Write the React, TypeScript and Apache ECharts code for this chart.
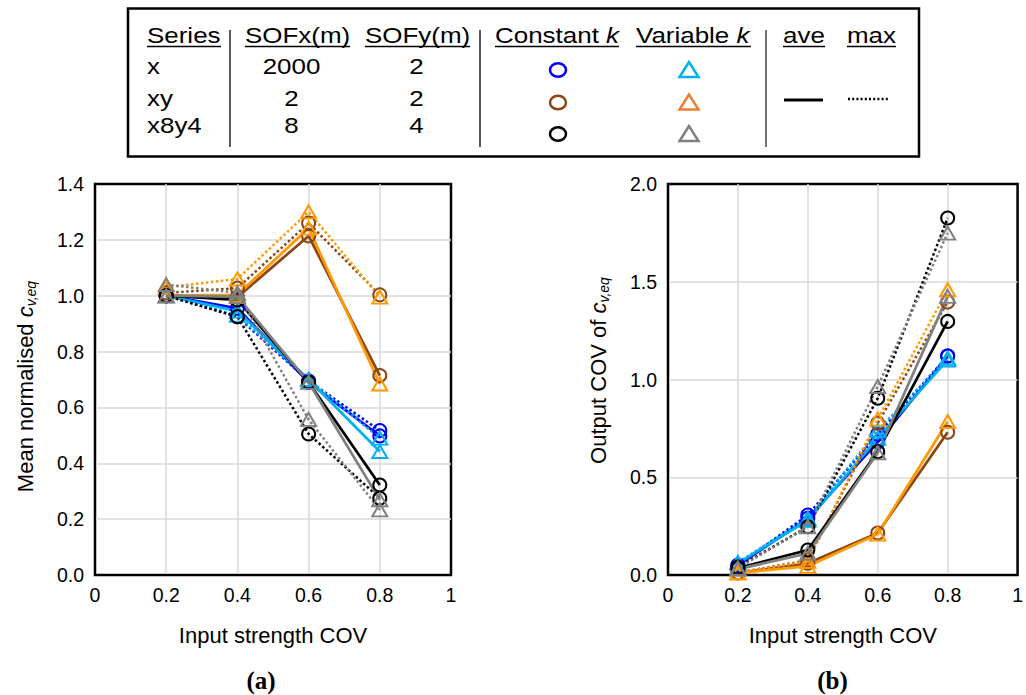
import React, { useEffect, useRef } from 'react';
import * as echarts from 'echarts';

// ---------- data ----------
const inputCov = [0.2, 0.4, 0.6, 0.8];

// (a) Mean normalised c_v,eq
const meanXConstAve = [1.0, 0.955, 0.69, 0.498];
const meanXConstMax = [1.0, 0.925, 0.695, 0.517];
const meanXVarAve = [1.0, 0.945, 0.7, 0.442];
const meanXVarMax = [1.0, 0.93, 0.7, 0.49];
const meanXyConstAve = [1.0, 0.995, 1.214, 0.714];
const meanXyConstMax = [1.01, 1.027, 1.26, 1.003];
const meanXyVarAve = [1.0, 1.003, 1.242, 0.684];
const meanXyVarMax = [1.03, 1.06, 1.3, 0.995];
const meanX8y4ConstAve = [1.0, 0.985, 0.69, 0.322];
const meanX8y4ConstMax = [1.0, 0.925, 0.505, 0.275];
const meanX8y4VarAve = [1.0, 0.997, 0.69, 0.269];
const meanX8y4VarMax = [1.04, 1.01, 0.557, 0.233];

// (b) Output COV of c_v,eq
const covXConstAve = [0.05, 0.29, 0.68, 1.12];
const covXConstMax = [0.05, 0.307, 0.72, 1.12];
const covXVarAve = [0.06, 0.28, 0.7, 1.1];
const covXVarMax = [0.065, 0.29, 0.74, 1.11];
const covXyConstAve = [0.01, 0.06, 0.215, 0.73];
const covXyConstMax = [0.012, 0.075, 0.776, 1.396];
const covXyVarAve = [0.01, 0.045, 0.21, 0.785];
const covXyVarMax = [0.012, 0.07, 0.797, 1.459];
const covX8y4ConstAve = [0.035, 0.128, 0.631, 1.297];
const covX8y4ConstMax = [0.04, 0.247, 0.904, 1.826];
const covX8y4VarAve = [0.03, 0.111, 0.625, 1.425];
const covX8y4VarMax = [0.035, 0.247, 0.964, 1.749];

// legend table contents
const tableHeaders = ['Series', 'SOFx(m)', 'SOFy(m)', 'Constant {i|k}', 'Variable {i|k}', 'ave', 'max'];
const seriesNames = ['x', 'xy', 'x8y4'];
const sofX = ['2000', '2', '8'];
const sofY = ['2', '2', '4'];

const BLUE = '#0000FF';
const LIGHT_BLUE = '#00B0F0';
const BROWN = '#8C4515';
const ORANGE = '#FF9900';
const BLACK = '#000000';
const GRAY = '#808080';

const specs = [
  { name: 'x const', color: BLUE, sym: 'circle', mean: [meanXConstAve, meanXConstMax], cov: [covXConstAve, covXConstMax] },
  { name: 'x var', color: LIGHT_BLUE, sym: 'triangle', mean: [meanXVarAve, meanXVarMax], cov: [covXVarAve, covXVarMax] },
  { name: 'xy const', color: BROWN, sym: 'circle', mean: [meanXyConstAve, meanXyConstMax], cov: [covXyConstAve, covXyConstMax] },
  { name: 'xy var', color: ORANGE, sym: 'triangle', mean: [meanXyVarAve, meanXyVarMax], cov: [covXyVarAve, covXyVarMax] },
  { name: 'x8y4 const', color: BLACK, sym: 'circle', mean: [meanX8y4ConstAve, meanX8y4ConstMax], cov: [covX8y4ConstAve, covX8y4ConstMax] },
  { name: 'x8y4 var', color: GRAY, sym: 'triangle', mean: [meanX8y4VarAve, meanX8y4VarMax], cov: [covX8y4VarAve, covX8y4VarMax] },
];

const FONT = 'Arial, "Liberation Sans", Helvetica, sans-serif';

function mkSeries(name: string, vals: number[], color: string, sym: string, dotted: boolean, axis: number) {
  return {
    type: 'line',
    name,
    xAxisIndex: axis,
    yAxisIndex: axis,
    data: inputCov.map((x, i) => [x, vals[i]]),
    symbol: sym,
    symbolSize: sym === 'circle' ? 13 : [15, 13],
    showSymbol: true,
    clip: false,
    silent: true,
    lineStyle: { color, width: dotted ? 2.5 : 2.75, type: dotted ? 'dotted' : 'solid' },
    itemStyle: { color: 'rgba(255,255,255,0)', borderColor: color, borderWidth: 2 },
    emphasis: { disabled: true },
  };
}

function xAxisCfg(gridIndex: number) {
  return {
    gridIndex,
    type: 'value',
    min: 0,
    max: 1,
    interval: 0.2,
    axisLine: { show: true, onZero: false, lineStyle: { color: '#000', width: 2 } },
    axisTick: { show: false },
    axisLabel: {
      color: '#000',
      fontSize: 19.5,
      fontFamily: FONT,
      margin: 10,
      formatter: (v: number) => (Math.abs(v) < 1e-9 || Math.abs(v - 1) < 1e-9 ? String(Math.round(v)) : v.toFixed(1)),
    },
    splitLine: { show: true, showMinLine: false, showMaxLine: false, lineStyle: { color: '#D9D9D9', width: 1.5 } },
    name: 'Input strength COV',
    nameLocation: 'middle',
    nameGap: 49,
    nameTextStyle: { color: '#000', fontSize: 22, fontFamily: FONT },
  };
}

const subRich = {
  i: { fontStyle: 'italic', fontSize: 22, fontFamily: FONT, color: '#000', lineHeight: 22, verticalAlign: 'top' },
  n: { fontSize: 22, fontFamily: FONT, color: '#000', lineHeight: 22, verticalAlign: 'top' },
  s: { fontStyle: 'italic', fontSize: 14, fontFamily: FONT, color: '#000', lineHeight: 14, padding: [10, 0, 0, 0], verticalAlign: 'top' },
};

function yAxisCfg(gridIndex: number, max: number, interval: number, name: string, pad: number[]) {
  return {
    gridIndex,
    type: 'value',
    min: 0,
    max,
    interval,
    axisLine: { show: true, onZero: false, lineStyle: { color: '#000', width: 2 } },
    axisTick: { show: false },
    axisLabel: { color: '#000', fontSize: 19.5, fontFamily: FONT, margin: 11, formatter: (v: number) => v.toFixed(1) },
    splitLine: { show: true, showMinLine: false, showMaxLine: false, lineStyle: { color: '#D9D9D9', width: 1.5 } },
    name,
    nameLocation: 'middle',
    nameRotate: 90,
    nameGap: 59,
    nameTextStyle: { color: '#000', fontSize: 22, fontFamily: FONT, rich: subRich, padding: pad },
  };
}

function buildLegend() {
  const els: any[] = [];
  els.push({
    type: 'rect',
    shape: { x: 128, y: 8.5, width: 791, height: 148 },
    style: { fill: '#fff', stroke: '#000', lineWidth: 2.5 },
    z: 10,
  });
  const SX = 1.18;
  const hx = [147, 245, 365, 495, 636, 783, 847];
  const hw = [74, 105, 105, 124, 115, 42, 49];
  tableHeaders.forEach((t, i) => {
    els.push({
      type: 'text',
      x: hx[i],
      y: 35.5,
      scaleX: SX,
      z: 11,
      style: {
        text: t,
        fontSize: 22,
        fontFamily: FONT,
        fill: '#000',
        align: 'left',
        verticalAlign: 'middle',
        rich: { i: { fontStyle: 'italic', fontSize: 22, fontFamily: FONT, fill: '#000' } },
      },
    });
    els.push({
      type: 'line',
      shape: { x1: hx[i], y1: 46.5, x2: hx[i] + hw[i], y2: 46.5 },
      style: { stroke: '#000', lineWidth: 1.5 },
      z: 11,
    });
  });
  const rowY = [66.5, 98.5, 125.5];
  seriesNames.forEach((t, r) => {
    els.push({ type: 'text', x: 147, y: rowY[r], scaleX: SX, z: 11, style: { text: t, fontSize: 22, fontFamily: FONT, fill: '#000', align: 'left', verticalAlign: 'middle' } });
    els.push({ type: 'text', x: 291.5, y: rowY[r], scaleX: SX, z: 11, style: { text: sofX[r], fontSize: 22, fontFamily: FONT, fill: '#000', align: 'center', verticalAlign: 'middle' } });
    els.push({ type: 'text', x: 416.5, y: rowY[r], scaleX: SX, z: 11, style: { text: sofY[r], fontSize: 22, fontFamily: FONT, fill: '#000', align: 'center', verticalAlign: 'middle' } });
  });
  // separators
  [[230, '#222'], [480, '#222'], [766, '#444']].forEach(([x, c]) => {
    els.push({ type: 'line', shape: { x1: x as number, y1: 30, x2: x as number, y2: 147 }, style: { stroke: c as string, lineWidth: 1.5 }, z: 11 });
  });
  // markers
  const circY = [70, 102.5, 134];
  const circCol = [BLUE, '#8C4418', BLACK];
  circY.forEach((cy, r) => {
    els.push({ type: 'ellipse', shape: { cx: 558, cy, rx: 8, ry: 6.8 }, style: { fill: 'none', stroke: circCol[r], lineWidth: 2.5 }, z: 11 });
  });
  const triCol = [LIGHT_BLUE, '#ED7D31', GRAY];
  circY.forEach((cy, r) => {
    els.push({
      type: 'polygon',
      shape: { points: [[689, cy - 8], [679.5, cy + 7], [698.5, cy + 7]] },
      style: { fill: 'none', stroke: triCol[r], lineWidth: 2.5 },
      z: 11,
    });
  });
  // line styles
  els.push({ type: 'line', shape: { x1: 784, y1: 100, x2: 823, y2: 100 }, style: { stroke: '#000', lineWidth: 3 }, z: 11 });
  els.push({ type: 'line', shape: { x1: 848, y1: 99, x2: 889, y2: 99 }, style: { stroke: '#000', lineWidth: 2.5, lineDash: [2, 2.2] }, z: 11 });
  // subtitles
  const serif = '"Times New Roman", "Liberation Serif", serif';
  els.push({ type: 'text', x: 261, y: 680.5, z: 11, style: { text: '(a)', fontSize: 25, fontWeight: 'bold', fontFamily: serif, fill: '#000', align: 'center', verticalAlign: 'middle' } });
  els.push({ type: 'text', x: 832.5, y: 680.5, z: 11, style: { text: '(b)', fontSize: 25, fontWeight: 'bold', fontFamily: serif, fill: '#000', align: 'center', verticalAlign: 'middle' } });
  return els;
}

export default function App() {
  const ref = useRef<HTMLDivElement>(null);
  useEffect(() => {
    if (!ref.current) return;
    const chart = echarts.init(ref.current, undefined, { renderer: 'svg' });
    const series: any[] = [];
    specs.forEach((s) => {
      series.push(mkSeries(s.name + ' ave (a)', s.mean[0], s.color, s.sym, false, 0));
      series.push(mkSeries(s.name + ' max (a)', s.mean[1], s.color, s.sym, true, 0));
      series.push(mkSeries(s.name + ' ave (b)', s.cov[0], s.color, s.sym, false, 1));
      series.push(mkSeries(s.name + ' max (b)', s.cov[1], s.color, s.sym, true, 1));
    });
    chart.setOption({
      animation: false,
      backgroundColor: '#fff',
      grid: [
        { left: 95, top: 184, width: 356, height: 391, show: true, borderColor: '#000', borderWidth: 2.5, backgroundColor: 'transparent' },
        { left: 668, top: 184, width: 355, height: 391, show: true, borderColor: '#000', borderWidth: 2.5, backgroundColor: 'transparent' },
      ],
      xAxis: [xAxisCfg(0), xAxisCfg(1)],
      yAxis: [
        yAxisCfg(0, 1.4, 0.2, '{n|Mean normalised }{i|c}{s|v,eq}', [0, 14, 0, 0]),
        yAxisCfg(1, 2.0, 0.5, '{n|Output COV of }{i|c}{s|v,eq}', [0, 0, 0, 18]),
      ],
      series,
      graphic: buildLegend(),
    });
    return () => chart.dispose();
  }, []);
  return <div ref={ref} style={{ position: 'absolute', left: 0, top: 0, width: 1026, height: 695, background: '#fff' }} />;
}
